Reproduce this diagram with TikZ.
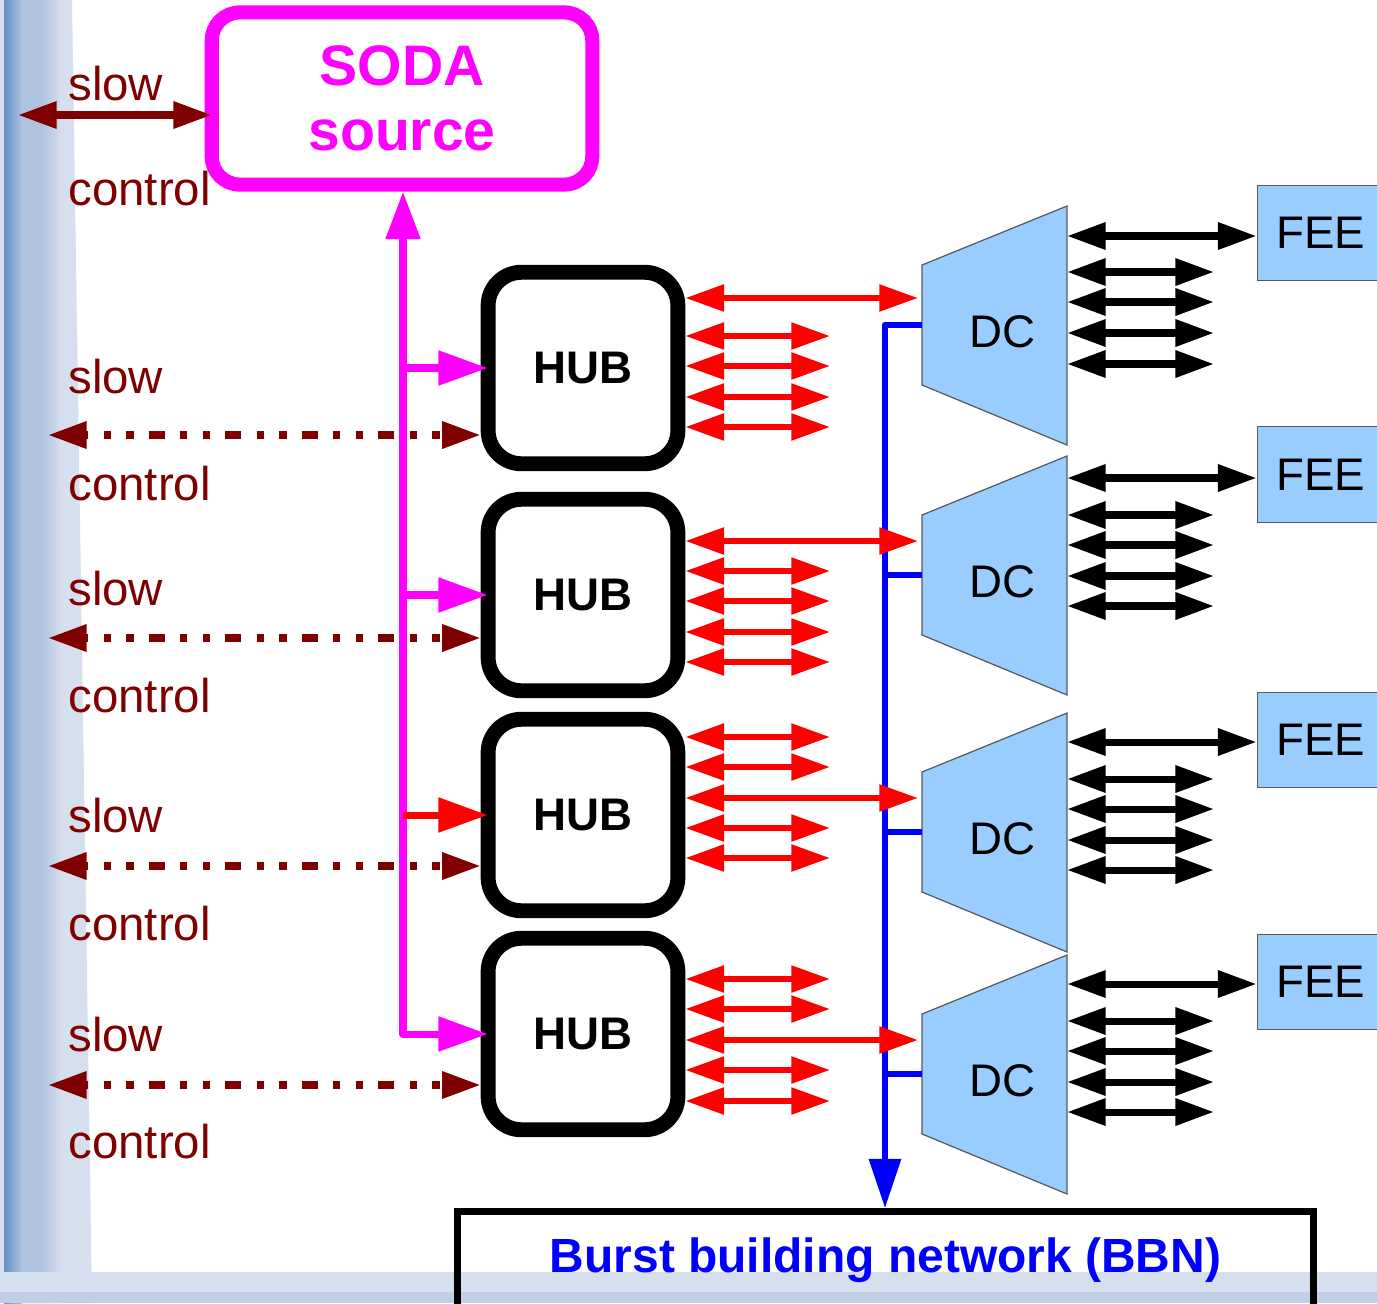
\documentclass[tikz,border=0pt]{standalone}
\usepackage{fontspec}
\setmainfont{Liberation Sans}
\usetikzlibrary{arrows.meta}
\definecolor{dred}{HTML}{800000}
\definecolor{mag}{HTML}{FF00FF}
\definecolor{lblue}{HTML}{99CCFF}
\definecolor{bgA}{HTML}{D6DFED}
\definecolor{bgB}{HTML}{AEC1DF}
\definecolor{bgC}{HTML}{6690C8}
\begin{document}
\begin{tikzpicture}[x=0.02cm,y=-0.02cm,
  redarr/.style={draw=red, line width=3.4pt, {Triangle[length=22pt,width=14.7pt]}-{Triangle[length=22pt,width=14.7pt]}},
  blkarr/.style={draw=black, line width=4pt, {Triangle[length=22pt,width=14.7pt]}-{Triangle[length=22pt,width=14.7pt]}},
  scarr/.style={draw=dred, line width=4pt, {Triangle[length=22pt,width=14.7pt]}-{Triangle[length=22pt,width=14.7pt]}},
  dotarr/.style={draw=dred, line width=4.1pt, dash pattern=on 4.14pt off 8.73pt on 4.14pt off 8.73pt on 9.07pt off 8.73pt, dash phase=32.8pt, {Triangle[length=22pt,width=14.7pt]}-{Triangle[length=22pt,width=14.7pt]}},
  magarr/.style={draw=mag, line width=4pt, -{Triangle[length=28pt,width=19pt]}},
  hubbox/.style={draw=black, line width=8.5pt, rounded corners=19pt, minimum width=108pt, minimum height=109pt, inner sep=0pt, fill=white, font=\bfseries\fontsize{26pt}{30pt}\selectfont},
  feebox/.style={draw=gray!70!black, line width=0.7pt, fill=lblue, minimum width=72.6pt, minimum height=54.4pt, inner sep=0pt, font=\fontsize{26pt}{30pt}\selectfont},
  dcshape/.style={fill=lblue, draw=gray!70!black, line width=0.7pt},
  dclabel/.style={inner sep=0pt, font=\fontsize{26pt}{30pt}\selectfont},
  sclabel/.style={anchor=base west, inner sep=0pt, text=dred, font=\fontsize{27pt}{30pt}\selectfont},
  bus/.style={draw=blue, line width=3.6pt, line join=round}
]
\clip (0,0) rectangle (1377,1303);
\fill[white] (0,0) rectangle (1377,1303);
% slide background
\fill[bgA] (0,0) -- (72,0) -- (92,1303) -- (0,1303) -- cycle;
\shade[left color=bgB, right color=bgA] (40,0) -- (60,0) -- (62,1303) -- (40,1303) -- cycle;
\fill[bgB] (6,0) -- (42,0) -- (40,1303) -- (4,1303) -- cycle;
\shade[left color=bgC, right color=bgB] (4,0) rectangle (22,1303);
\fill[bgA] (0,1272) rectangle (1377,1303);
\fill[bgB!55!bgA] (0,1292) rectangle (1377,1303);

% SODA source
\node[draw=mag, line width=8pt, rounded corners=16pt, minimum width=216.6pt, minimum height=98pt, inner sep=0pt, align=center, text=mag, font=\bfseries\fontsize{32.5pt}{37pt}\selectfont] (soda) at (402,98.5) {SODA\\source};

% HUBs
\node[hubbox] (hub1) at (583,368) {HUB};
\node[hubbox] (hub2) at (583,595) {HUB};
\node[hubbox] (hub3) at (583,815) {HUB};
\node[hubbox] (hub4) at (583,1034) {HUB};

% slow control labels
\foreach \ys/\yc [count=\i] in {100/205,393/500,605/712,832/940,1051/1158}{
  \node[sclabel] (slow\i) at (68,\ys) {slow};
  \node[sclabel] (ctrl\i) at (68,\yc) {control};
}

% slow control arrows
\coordinate (sc0) at (18,115);
\coordinate (sc0e) at (212,115);
\draw[scarr] (sc0) -- (sc0e);
\coordinate (sc1) at (48,435);
\coordinate (sc2) at (48,638);
\coordinate (sc3) at (48,866);
\coordinate (sc4) at (48,1085);
\draw[dotarr] (sc1) -- (sc1 -| hub1.west);
\draw[dotarr] (sc2) -- (sc2 -| hub2.west);
\draw[dotarr] (sc3) -- (sc3 -| hub3.west);
\draw[dotarr] (sc4) -- (sc4 -| hub4.west);

% SODA distribution
\coordinate (mcorner) at (403,1034);
\draw[draw=mag, line width=4pt, line join=round, {Triangle[length=27pt,width=19pt]}-{Triangle[length=28pt,width=19pt]}] (soda.south -| mcorner) -- (mcorner) -- ([xshift=4pt]hub4.west);
\draw[magarr] (mcorner |- hub1.west) -- ([xshift=4pt]hub1.west);
\draw[magarr] (mcorner |- hub2.west) -- ([xshift=4pt]hub2.west);
\draw[magarr, draw=red] (mcorner |- hub3.west) -- ([xshift=4pt]hub3.west);

% DC shapes
\foreach \o [count=\i] in {0,250,507,749}{
  \path[dcshape] (922,265+\o) -- (1067,206+\o) -- (1067,445+\o) -- (922,385+\o) -- cycle;
  \node[dclabel] (dc\i) at (1002,332+\o) {DC};
}

% FEE boxes
\node[feebox] (fee1) at (1321,233) {FEE};
\node[feebox] (fee2) at (1321,474.5) {FEE};
\node[feebox] (fee3) at (1321,740) {FEE};
\node[feebox] (fee4) at (1321,982) {FEE};

% BBN
\node[draw=black, line width=4pt, minimum width=487.6pt, minimum height=55pt, inner sep=0pt, text=blue, font=\bfseries\fontsize{27.3pt}{30pt}\selectfont] (bbn) at (885.5,1260) {Burst building network (BBN)};

% blue bus
\draw[bus, -{Triangle[length=28pt,width=17.6pt]}] (922,325) -- (885,325) -- (bbn.north -| 885,0);
\draw[bus] (885,575) -- (922,575);
\draw[bus] (885,832) -- (922,832);
\draw[bus] (885,1074) -- (922,1074);

% red arrows HUB -> DC
\draw[redarr] (hub1.east |- 0,298) -- (918,298);
\foreach \y in {336,366,397,427} \draw[redarr] (hub1.east |- 0,\y) -- (830,\y);
\draw[redarr] (hub2.east |- 0,541) -- (918,541);
\foreach \y in {571,601,632,662} \draw[redarr] (hub2.east |- 0,\y) -- (830,\y);
\draw[redarr] (hub3.east |- 0,798) -- (918,798);
\foreach \y in {737,767,828,858} \draw[redarr] (hub3.east |- 0,\y) -- (830,\y);
\draw[redarr] (hub4.east |- 0,1040) -- (918,1040);
\foreach \y in {979,1009,1070,1101} \draw[redarr] (hub4.east |- 0,\y) -- (830,\y);

% black arrows DC -> FEE
\draw[blkarr] (1067,236) -- (fee1.west |- 0,236);
\foreach \y in {272,302,333,364} \draw[blkarr] (1067,\y) -- (1214,\y);
\draw[blkarr] (1067,478) -- (fee2.west |- 0,478);
\foreach \y in {515,545,576,606} \draw[blkarr] (1067,\y) -- (1214,\y);
\draw[blkarr] (1067,742) -- (fee3.west |- 0,742);
\foreach \y in {779,809,840,870} \draw[blkarr] (1067,\y) -- (1214,\y);
\draw[blkarr] (1067,984) -- (fee4.west |- 0,984);
\foreach \y in {1021,1051,1082,1112} \draw[blkarr] (1067,\y) -- (1214,\y);
\end{tikzpicture}
\end{document}
